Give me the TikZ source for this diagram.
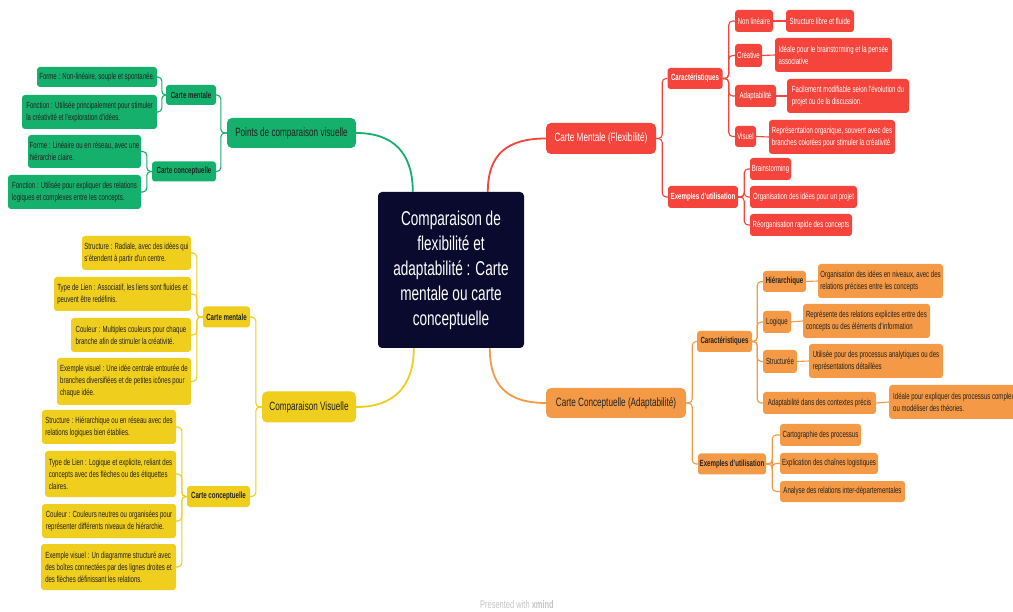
\documentclass[tikz,border=0pt]{standalone}
\usepackage{fontspec}
\setmainfont{Liberation Sans}[FakeStretch=0.68]
\definecolor{gcol}{HTML}{14B06C}
\definecolor{rcol}{HTML}{F5443B}
\definecolor{ocol}{HTML}{F49A46}
\definecolor{ycol}{HTML}{EFCE1E}
\definecolor{ccol}{HTML}{0A0A2E}
\definecolor{dtxt}{HTML}{222222}
\definecolor{foot}{HTML}{C4C4C4}
\tikzset{
  wh/.style 2 args={minimum width=#1pt, minimum height=#2pt},
  box/.style={rectangle, rounded corners=3pt, inner sep=0pt, align=left, font=\fontsize{8.9}{12}\selectfont},
  head/.style={rectangle, rounded corners=5pt, inner sep=0pt, align=center, font=\fontsize{12}{14}\selectfont},
  gbox/.style={box, fill=gcol, text=dtxt},
  rbox/.style={box, fill=rcol, text=white},
  obox/.style={box, fill=ocol, text=dtxt},
  ybox/.style={box, fill=ycol, text=dtxt},
  bf/.style={font=\fontsize{9}{12}\selectfont\bfseries},
  gline/.style={draw=gcol, line width=1.1pt, rounded corners=4pt},
  rline/.style={draw=rcol, line width=1.1pt, rounded corners=4pt},
  oline/.style={draw=ocol, line width=1.1pt, rounded corners=4pt},
  yline/.style={draw=ycol, line width=1.1pt, rounded corners=4pt},
  mainline/.style={line width=1.8pt},
}
\begin{document}
\begin{tikzpicture}[x=1pt,y=-1pt]
\fill[white] (0,0) rectangle (1013,612);
\useasboundingbox (0,0) rectangle (1013,612);

% centre
\node[rectangle, rounded corners=4pt, fill=ccol, text=white, inner sep=0pt, wh={146}{156}, align=center,
      font=\fontsize{20}{25}\selectfont] (c) at (451,270)
  {Comparaison de\\flexibilité et\\adaptabilité : Carte\\mentale ou carte\\conceptuelle};

% ---------------- green ----------------
\node[head, fill=gcol, text=dtxt, wh={129}{30}] (gP) at (291.5,133) {Points de comparaison visuelle};
\node[gbox, bf, wh={50}{20}] (gCM) at (191,95) {Carte mentale};
\node[gbox, wh={120}{20}] (gF1) at (97,77) {Forme : Non-linéaire, souple et spontanée.};
\node[gbox, wh={135}{34}] (gF2) at (89.5,112) {Fonction : Utilisée principalement pour stimuler\\la créativité et l'exploration d'idées.};
\node[gbox, bf, wh={64}{20}] (gCC) at (184,171.5) {Carte conceptuelle};
\node[gbox, wh={113}{33}] (gF3) at (84.5,151.5) {Forme : Linéaire ou en réseau, avec une\\hiérarchie claire.};
\node[gbox, wh={133}{34}] (gF4) at (74.5,192) {Fonction : Utilisée pour expliquer des relations\\logiques et complexes entre les concepts.};

\draw[draw=gcol, mainline] ([xshift=35pt]c.north west) .. controls +(0,-38) and +(38,0) .. (gP.east);
\draw[gline] (gP.west) -- ++(-6,0) |- (gCM.east);
\draw[gline] (gP.west) -- ++(-6,0) |- (gCC.east);
\draw[gline] (gCM.west) -- ++(-4,0) |- (gF1.east);
\draw[gline] (gCM.west) -- ++(-4,0) |- (gF2.east);
\draw[gline] (gCC.west) -- ++(-5,0) |- (gF3.east);
\draw[gline] (gCC.west) -- ++(-5,0) |- (gF4.east);

% ---------------- red ----------------
\node[head, fill=rcol, text=white, wh={110}{31}] (rM) at (601,138.5) {Carte Mentale (Flexibilité)};
\node[rbox, bf, wh={55}{21}] (rC) at (695,78.5) {Caractéristiques};
\node[rbox, wh={38}{22}] (r1) at (754,21) {Non linéaire};
\node[rbox, wh={68}{22}] (r1l) at (820,21) {Structure libre et fluide};
\node[rbox, wh={27}{23}] (r2) at (748.5,55.5) {Créative};
\node[rbox, wh={117}{34}] (r2l) at (833.5,55) {Idéale pour le brainstorming et la pensée\\associative};
\node[rbox, wh={41}{22}] (r3) at (755.5,96) {Adaptabilité};
\node[rbox, wh={122}{34}] (r3l) at (848,96) {Facilement modifiable selon l'évolution du\\projet ou de la discussion.};
\node[rbox, wh={21}{21}] (r4) at (745.5,136.5) {Visuel};
\node[rbox, wh={126}{34}] (r4l) at (832,137) {Représentation organique, souvent avec des\\branches colorées pour stimuler la créativité};
\node[rbox, bf, wh={70}{22}] (rE) at (703,197) {Exemples d'utilisation};
\node[rbox, wh={41}{22}] (r5) at (770.5,169) {Brainstorming};
\node[rbox, wh={107}{22}] (r6) at (803.5,197) {Organisation des idées pour un projet};
\node[rbox, wh={102}{22}] (r7) at (801,225) {Réorganisation rapide des concepts};

\draw[draw=rcol, mainline] ([xshift=110pt]c.north west) .. controls +(0,-38) and +(-38,0) .. (rM.west);
\draw[rline] (rM.east) -- ++(6,0) |- (rC.west);
\draw[rline] (rM.east) -- ++(6,0) |- (rE.west);
\draw[rline] (rC.east) -- ++(6,0) |- (r1.west);
\draw[rline] (rC.east) -- ++(6,0) |- (r2.west);
\draw[rline] (rC.east) -- ++(6,0) |- (r3.west);
\draw[rline] (rC.east) -- ++(6,0) |- (r4.west);
\draw[rline] (r1.east) -- (r1l.west);
\draw[rline] (r2.east) -- (r2l.west);
\draw[rline] (r3.east) -- (r3l.west);
\draw[rline] (r4.east) -- (r4l.west);
\draw[rline] (rE.east) -- ++(6,0) |- (r5.west);
\draw[rline] (rE.east) -- ++(6,0) |- (r6.west);
\draw[rline] (rE.east) -- ++(6,0) |- (r7.west);

% ---------------- orange ----------------
\node[head, fill=ocol, text=dtxt, wh={140}{30}] (oM) at (616,403) {Carte Conceptuelle (Adaptabilité)};
\node[obox, bf, wh={55}{21}] (oC) at (724.5,341.5) {Caractéristiques};
\node[obox, bf, wh={43}{21}] (o1) at (784.5,281.5) {Hiérarchique};
\node[obox, wh={125}{34}] (o1l) at (880.5,281) {Organisation des idées en niveaux, avec des\\relations précises entre les concepts};
\node[obox, wh={28}{22}] (o2) at (777,322) {Logique};
\node[obox, wh={127}{34}] (o2l) at (866.5,321) {Représente des relations explicites entre des\\concepts ou des éléments d'information};
\node[obox, wh={34}{23}] (o3) at (780,361.5) {Structurée};
\node[obox, wh={134}{34}] (o3l) at (876,361) {Utilisée pour des processus analytiques ou des\\représentations détaillées};
\node[obox, wh={113}{22}] (o4) at (819.5,403) {Adaptabilité dans des contextes précis};
\node[obox, inner xsep=4pt, minimum height=34pt, anchor=west] (o4l) at (889,402) {Idéale pour expliquer des processus complexes\\ou modéliser des théories.};
\node[obox, bf, wh={68}{21}] (oE) at (732,464) {Exemples d'utilisation};
\node[obox, wh={81}{22}] (o5) at (820.5,435) {Cartographie des processus};
\node[obox, wh={98}{21}] (o6) at (829,463.5) {Explication des chaînes logistiques};
\node[obox, wh={125}{21}] (o7) at (842.5,491.5) {Analyse des relations inter-départementales};

\draw[draw=ocol, mainline] ([xshift=112pt]c.south west) .. controls +(0,38) and +(-38,0) .. (oM.west);
\draw[oline] (oM.east) -- ++(6,0) |- (oC.west);
\draw[oline] (oM.east) -- ++(6,0) |- (oE.west);
\draw[oline] (oC.east) -- ++(5,0) |- (o1.west);
\draw[oline] (oC.east) -- ++(5,0) |- (o2.west);
\draw[oline] (oC.east) -- ++(5,0) |- (o3.west);
\draw[oline] (oC.east) -- ++(5,0) |- (o4.west);
\draw[oline] (o1.east) -- (o1l.west);
\draw[oline] (o2.east) -- (o2l.west);
\draw[oline] (o3.east) -- (o3l.west);
\draw[oline] (o4.east) -- (o4l.west);
\draw[oline] (oE.east) -- ++(6,0) |- (o5.west);
\draw[oline] (oE.east) -- ++(6,0) |- (o6.west);
\draw[oline] (oE.east) -- ++(6,0) |- (o7.west);

% ---------------- yellow ----------------
\node[head, fill=ycol, text=dtxt, wh={94}{31}] (yM) at (309,407) {Comparaison Visuelle};
\node[ybox, bf, wh={47}{21}] (yCM) at (226.5,317) {Carte mentale};
\node[ybox, wh={109}{34}] (y1) at (136.5,253) {Structure : Radiale, avec des idées qui\\s'étendent à partir d'un centre.};
\node[ybox, wh={137}{34}] (y2) at (122.5,294) {Type de Lien : Associatif, les liens sont fluides et\\peuvent être redéfinis.};
\node[ybox, wh={120}{34}] (y3) at (131,335) {Couleur : Multiples couleurs pour chaque\\branche afin de stimuler la créativité.};
\node[ybox, wh={134}{47}] (y4) at (124,381.5) {Exemple visuel : Une idée centrale entourée de\\branches diversifiées et de petites icônes pour\\chaque idée.};
\node[ybox, bf, wh={63}{21}] (yCC) at (218.5,496.5) {Carte conceptuelle};
\node[ybox, wh={134}{34}] (y5) at (109,427) {Structure : Hiérarchique ou en réseau avec des\\relations logiques bien établies.};
\node[ybox, wh={131}{46}] (y6) at (110.5,474) {Type de Lien : Logique et explicite, reliant des\\concepts avec des flèches ou des étiquettes\\claires.};
\node[ybox, wh={134}{34}] (y7) at (109,521) {Couleur : Couleurs neutres ou organisées pour\\représenter différents niveaux de hiérarchie.};
\node[ybox, wh={135}{46}] (y8) at (108.5,567) {Exemple visuel : Un diagramme structuré avec\\des boîtes connectées par des lignes droites et\\des flèches définissant les relations.};

\draw[draw=ycol, mainline] ([xshift=36pt]c.south west) .. controls +(0,38) and +(38,0) .. (yM.east);
\draw[yline] (yM.west) -- ++(-6,0) |- (yCM.east);
\draw[yline] (yM.west) -- ++(-6,0) |- (yCC.east);
\draw[yline] (yCM.west) -- ++(-6,0) |- (y1.east);
\draw[yline] (yCM.west) -- ++(-6,0) |- (y2.east);
\draw[yline] (yCM.west) -- ++(-6,0) |- (y3.east);
\draw[yline] (yCM.west) -- ++(-6,0) |- (y4.east);
\draw[yline] (yCC.west) -- ++(-5,0) |- (y5.east);
\draw[yline] (yCC.west) -- ++(-5,0) |- (y6.east);
\draw[yline] (yCC.west) -- ++(-5,0) |- (y7.east);
\draw[yline] (yCC.west) -- ++(-5,0) |- (y8.east);

% footer
\node[text=foot, font=\fontsize{11}{13}\selectfont, inner sep=0pt] (ft) at (517,605) {Presented with \textbf{xmind}};
\end{tikzpicture}
\end{document}
